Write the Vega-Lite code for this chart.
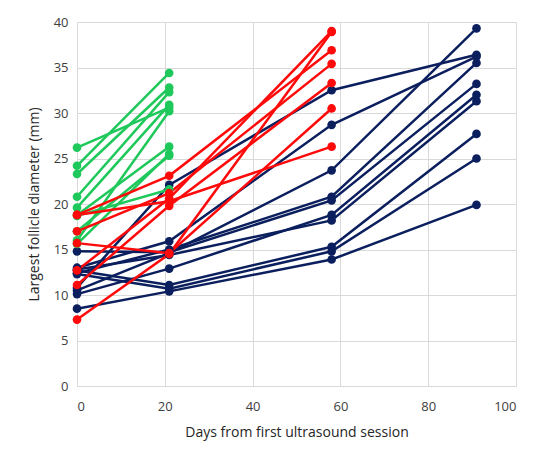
{
  "$schema": "https://vega.github.io/schema/vega-lite/v6.json",
  "width": 439,
  "height": 364,
  "autosize": {"type": "none"},
  "padding": {"left": 77, "top": 22, "right": 34, "bottom": 78},
  "background": "white",
  "config": {
    "view": {"stroke": null},
    "font": "Open Sans",
    "axis": {
      "domain": false,
      "ticks": false,
      "gridColor": "#d9d9d9",
      "gridWidth": 1,
      "labelColor": "#404040",
      "labelFontSize": 13,
      "titleColor": "#262626",
      "titleFontSize": 14,
      "titleFontWeight": "normal"
    }
  },
  "data": {
    "values": [
      {"follicle": "B1", "group": "blue", "day": 0, "mm": 10.8},
      {"follicle": "B1", "group": "blue", "day": 21, "mm": 22.1},
      {"follicle": "B1", "group": "blue", "day": 58, "mm": 32.5},
      {"follicle": "B1", "group": "blue", "day": 91, "mm": 36.4},
      {"follicle": "B2", "group": "blue", "day": 0, "mm": 13.0},
      {"follicle": "B2", "group": "blue", "day": 21, "mm": 15.9},
      {"follicle": "B2", "group": "blue", "day": 58, "mm": 28.7},
      {"follicle": "B2", "group": "blue", "day": 91, "mm": 36.2},
      {"follicle": "B3", "group": "blue", "day": 0, "mm": 10.5},
      {"follicle": "B3", "group": "blue", "day": 21, "mm": 14.6},
      {"follicle": "B3", "group": "blue", "day": 58, "mm": 23.7},
      {"follicle": "B3", "group": "blue", "day": 91, "mm": 39.3},
      {"follicle": "B4", "group": "blue", "day": 0, "mm": 12.4},
      {"follicle": "B4", "group": "blue", "day": 21, "mm": 15.0},
      {"follicle": "B4", "group": "blue", "day": 58, "mm": 20.8},
      {"follicle": "B4", "group": "blue", "day": 91, "mm": 35.5},
      {"follicle": "B5", "group": "blue", "day": 0, "mm": 14.8},
      {"follicle": "B5", "group": "blue", "day": 21, "mm": 14.7},
      {"follicle": "B5", "group": "blue", "day": 58, "mm": 20.4},
      {"follicle": "B5", "group": "blue", "day": 91, "mm": 33.2},
      {"follicle": "B6", "group": "blue", "day": 0, "mm": 10.1},
      {"follicle": "B6", "group": "blue", "day": 21, "mm": 12.9},
      {"follicle": "B6", "group": "blue", "day": 58, "mm": 18.8},
      {"follicle": "B6", "group": "blue", "day": 91, "mm": 32.0},
      {"follicle": "B7", "group": "blue", "day": 0, "mm": 12.8},
      {"follicle": "B7", "group": "blue", "day": 21, "mm": 14.4},
      {"follicle": "B7", "group": "blue", "day": 58, "mm": 18.2},
      {"follicle": "B7", "group": "blue", "day": 91, "mm": 31.3},
      {"follicle": "B8", "group": "blue", "day": 0, "mm": 12.7},
      {"follicle": "B8", "group": "blue", "day": 21, "mm": 11.1},
      {"follicle": "B8", "group": "blue", "day": 58, "mm": 15.3},
      {"follicle": "B8", "group": "blue", "day": 91, "mm": 27.7},
      {"follicle": "B9", "group": "blue", "day": 0, "mm": 12.3},
      {"follicle": "B9", "group": "blue", "day": 21, "mm": 10.7},
      {"follicle": "B9", "group": "blue", "day": 58, "mm": 14.8},
      {"follicle": "B9", "group": "blue", "day": 91, "mm": 25.0},
      {"follicle": "B10", "group": "blue", "day": 0, "mm": 8.5},
      {"follicle": "B10", "group": "blue", "day": 21, "mm": 10.4},
      {"follicle": "B10", "group": "blue", "day": 58, "mm": 13.9},
      {"follicle": "B10", "group": "blue", "day": 91, "mm": 19.9},
      {"follicle": "G1", "group": "green", "day": 0, "mm": 26.2},
      {"follicle": "G1", "group": "green", "day": 21, "mm": 30.6},
      {"follicle": "G2", "group": "green", "day": 0, "mm": 24.2},
      {"follicle": "G2", "group": "green", "day": 21, "mm": 34.4},
      {"follicle": "G3", "group": "green", "day": 0, "mm": 23.3},
      {"follicle": "G3", "group": "green", "day": 21, "mm": 32.8},
      {"follicle": "G4", "group": "green", "day": 0, "mm": 20.8},
      {"follicle": "G4", "group": "green", "day": 21, "mm": 32.3},
      {"follicle": "G5", "group": "green", "day": 0, "mm": 19.6},
      {"follicle": "G5", "group": "green", "day": 21, "mm": 30.9},
      {"follicle": "G6", "group": "green", "day": 0, "mm": 18.7},
      {"follicle": "G6", "group": "green", "day": 21, "mm": 21.6},
      {"follicle": "G7", "group": "green", "day": 0, "mm": 16.0},
      {"follicle": "G7", "group": "green", "day": 21, "mm": 30.2},
      {"follicle": "G8", "group": "green", "day": 0, "mm": 18.8},
      {"follicle": "G8", "group": "green", "day": 21, "mm": 26.3},
      {"follicle": "G9", "group": "green", "day": 0, "mm": 15.6},
      {"follicle": "G9", "group": "green", "day": 21, "mm": 25.5},
      {"follicle": "G10", "group": "green", "day": 0, "mm": 17.0},
      {"follicle": "G10", "group": "green", "day": 21, "mm": 25.3},
      {"follicle": "R1", "group": "red", "day": 0, "mm": 18.8},
      {"follicle": "R1", "group": "red", "day": 21, "mm": 23.1},
      {"follicle": "R1", "group": "red", "day": 58, "mm": 36.9},
      {"follicle": "R2", "group": "red", "day": 0, "mm": 17.0},
      {"follicle": "R2", "group": "red", "day": 21, "mm": 21.2},
      {"follicle": "R2", "group": "red", "day": 58, "mm": 35.4},
      {"follicle": "R3", "group": "red", "day": 0, "mm": 12.7},
      {"follicle": "R3", "group": "red", "day": 21, "mm": 20.6},
      {"follicle": "R3", "group": "red", "day": 58, "mm": 39.0},
      {"follicle": "R4", "group": "red", "day": 0, "mm": 11.1},
      {"follicle": "R4", "group": "red", "day": 21, "mm": 19.8},
      {"follicle": "R4", "group": "red", "day": 58, "mm": 33.3},
      {"follicle": "R5", "group": "red", "day": 0, "mm": 18.8},
      {"follicle": "R5", "group": "red", "day": 21, "mm": 20.3},
      {"follicle": "R5", "group": "red", "day": 58, "mm": 26.3},
      {"follicle": "R6", "group": "red", "day": 0, "mm": 15.7},
      {"follicle": "R6", "group": "red", "day": 21, "mm": 14.6},
      {"follicle": "R6", "group": "red", "day": 58, "mm": 30.5},
      {"follicle": "R7", "group": "red", "day": 0, "mm": 7.3},
      {"follicle": "R7", "group": "red", "day": 21, "mm": 14.5},
      {"follicle": "R7", "group": "red", "day": 58, "mm": 38.9}
    ]
  },
  "encoding": {
    "x": {
      "field": "day",
      "type": "quantitative",
      "scale": {"domain": [0, 100], "nice": false},
      "axis": {"values": [0, 20, 40, 60, 80, 100], "labelPadding": 14, "titlePadding": 12, "title": "Days from first ultrasound session"}
    },
    "y": {
      "field": "mm",
      "type": "quantitative",
      "scale": {"domain": [0, 40], "nice": false},
      "axis": {"values": [0, 5, 10, 15, 20, 25, 30, 35, 40], "labelPadding": 9, "titlePadding": 12, "title": "Largest follicle diameter (mm)"}
    },
    "color": {
      "field": "group",
      "type": "nominal",
      "scale": {"domain": ["blue", "green", "red"], "range": ["#0b1f5e", "#1ec85a", "#ff0a0a"]},
      "legend": null
    },
    "detail": {"field": "follicle", "type": "nominal"}
  },
  "layer": [
    {"mark": {"type": "line", "strokeWidth": 2.5}},
    {"mark": {"type": "point", "filled": true, "size": 75, "opacity": 1}}
  ]
}
